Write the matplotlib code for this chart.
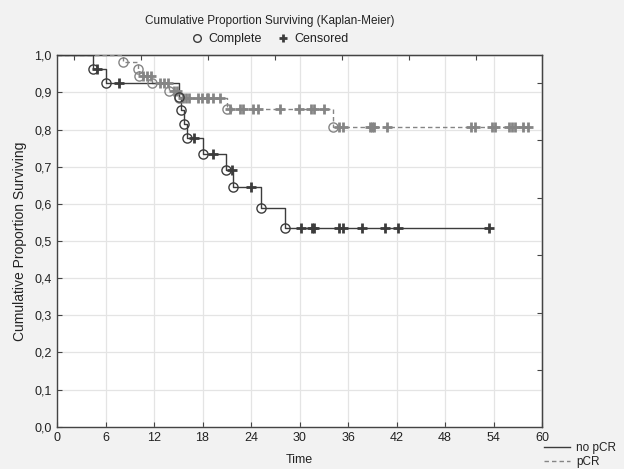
import numpy as np
import matplotlib
matplotlib.use("Agg")
import matplotlib.pyplot as plt
from matplotlib.lines import Line2D
from matplotlib.ticker import FuncFormatter

plt.rcParams['font.family'] = ['Liberation Sans', 'DejaVu Sans']

# ---- data ----
nopcr_event_t = [4.4, 6.1, 15.1, 15.4, 15.7, 16.05, 18.0, 20.9, 21.75, 25.2, 28.2]
nopcr_event_s = [0.963, 0.926, 0.889, 0.852, 0.815, 0.776, 0.734, 0.690, 0.645, 0.589, 0.535]
nopcr_cens_t = [5.0, 7.7, 16.9, 19.35, 21.7, 24.0, 30.2, 31.5, 31.8, 34.9, 35.4,
                37.7, 40.6, 42.2, 53.5]

pcr_event_t = [8.2, 10.0, 10.1, 11.8, 13.9, 15.1, 21.0, 34.1]
pcr_event_s = [0.982, 0.963, 0.944, 0.925, 0.905, 0.886, 0.855, 0.806]
pcr_cens_t = [10.7, 11.1, 11.6, 12.7, 13.2, 13.7, 14.5, 14.8, 15.6, 16.0, 16.3,
              17.4, 17.9, 18.5, 18.7, 19.3, 20.2, 21.4, 22.6, 23.0, 24.3, 24.9,
              27.6, 29.9, 31.4, 31.8, 33.0, 34.9, 35.4, 38.7, 39.0, 39.2, 40.8,
              51.2, 51.7, 53.8, 54.2, 55.9, 56.3, 56.7, 57.7, 58.3]

groups = ["no pCR", "pCR"]
x_ticks = [0, 6, 12, 18, 24, 30, 36, 42, 48, 54, 60]
y_ticks = [0.0, 0.1, 0.2, 0.3, 0.4, 0.5, 0.6, 0.7, 0.8, 0.9, 1.0]
top_minor_ticks = [2.1, 10.36, 18.65, 26.94, 35.2, 43.5, 51.8]
right_minor_ticks = [0.153, 0.306, 0.461, 0.616, 0.771, 0.926]

c_dark = '#3c3c3c'
c_gray = '#858585'
c_text = '#222222'
FS_TICK = 9
FS_H = 8.5
FS_V = 10

fig = plt.figure(figsize=(6.24, 4.69), dpi=100, facecolor='#f2f2f2')
ax = fig.add_axes([57/624, 1-426.7/469, (542-57)/624, (426.7-55.3)/469])
ax.set_facecolor('white')


def km_curve(ev_t, ev_s, cens_t):
    ev_t = np.asarray(ev_t, float)
    ev_s = np.asarray(ev_s, float)
    cens_t = np.asarray(cens_t, float)
    t_end = max(ev_t.max(), cens_t.max())
    xs = np.concatenate([[0.0], ev_t, [t_end]])
    ys = np.concatenate([[1.0], ev_s, [ev_s[-1]]])
    idx = np.searchsorted(ev_t, cens_t, side='right')
    cs = np.where(idx > 0, ev_s[np.maximum(idx - 1, 0)], 1.0)
    return xs, ys, cs


styles = [dict(color=c_dark, ls='-'), dict(color=c_gray, ls=(0, (3.2, 2.2)))]
data = [(nopcr_event_t, nopcr_event_s, nopcr_cens_t),
        (pcr_event_t, pcr_event_s, pcr_cens_t)]

# draw pCR first so no pCR lies on top
for k in [1, 0]:
    ev_t, ev_s, cens_t = data[k]
    st = styles[k]
    xs, ys, cs = km_curve(ev_t, ev_s, cens_t)
    ax.step(xs, ys, where='post', color=st['color'], ls=st['ls'], lw=1.0, zorder=3)
    ax.plot(ev_t, ev_s, 'o', ms=6.6, mfc='none', mec=st['color'], mew=1.0, zorder=4)
    ax.plot(cens_t, cs, '+', ms=6.5, mec=st['color'], mew=2.0, zorder=4)

ax.set_xlim(0, 60)
ax.set_ylim(0, 1.0)
ax.set_xticks(x_ticks)
ax.set_yticks(y_ticks)
ax.yaxis.set_major_formatter(FuncFormatter(lambda v, p: f"{v:.1f}".replace('.', ',')))
ax.grid(True, color='#e4e4e4', lw=0.9, zorder=0)
ax.set_axisbelow(True)
ax.tick_params(direction='in', length=3.5, width=0.8, color='#444444',
               labelsize=FS_TICK, labelcolor=c_text, pad=4)
for s in ax.spines.values():
    s.set_color('#444444')
    s.set_linewidth(1.0)

secx = ax.secondary_xaxis('top')
secx.set_xticks(top_minor_ticks)
secx.set_xticklabels([])
secx.tick_params(direction='in', length=3.5, width=0.8, color='#444444')
secy = ax.secondary_yaxis('right')
secy.set_yticks(right_minor_ticks)
secy.set_yticklabels([])
secy.tick_params(direction='in', length=3.5, width=0.8, color='#444444')

ax.set_xlabel('Time', fontsize=FS_H + 0.5, color=c_text, labelpad=7)
ax.set_ylabel('Cumulative Proportion Surviving', fontsize=FS_V, color=c_text, labelpad=5)

fig.text(270/624, 1-20.7/469, 'Cumulative Proportion Surviving (Kaplan-Meier)',
         ha='center', va='center', fontsize=FS_H, color=c_text)

top_handles = [Line2D([], [], ls='none', marker='o', ms=5.5, mfc='none', mec=c_dark, mew=1.0),
               Line2D([], [], ls='none', marker='+', ms=6, mec=c_dark, mew=2.0)]
fig.legend(top_handles, ['Complete', 'Censored'], loc='center',
           bbox_to_anchor=(270/624, 1-39.3/469), ncol=2, frameon=False,
           fontsize=FS_H + 0.5, handlelength=1.0, handletextpad=0.4, columnspacing=1.2,
           borderpad=0, labelcolor=c_text)

grp_handles = [Line2D([], [], color=c_dark, lw=1.0, ls='-'),
               Line2D([], [], color=c_gray, lw=1.0, ls=(0, (3.2, 2.2)))]
fig.legend(grp_handles, groups, loc='upper left',
           bbox_to_anchor=(544/624, 1-442/469), frameon=False, fontsize=FS_H,
           handlelength=2.2, handletextpad=0.5, labelspacing=0.15, borderpad=0,
           borderaxespad=0, labelcolor=c_text)

fig.savefig('out.png', dpi=100, facecolor=fig.get_facecolor())
